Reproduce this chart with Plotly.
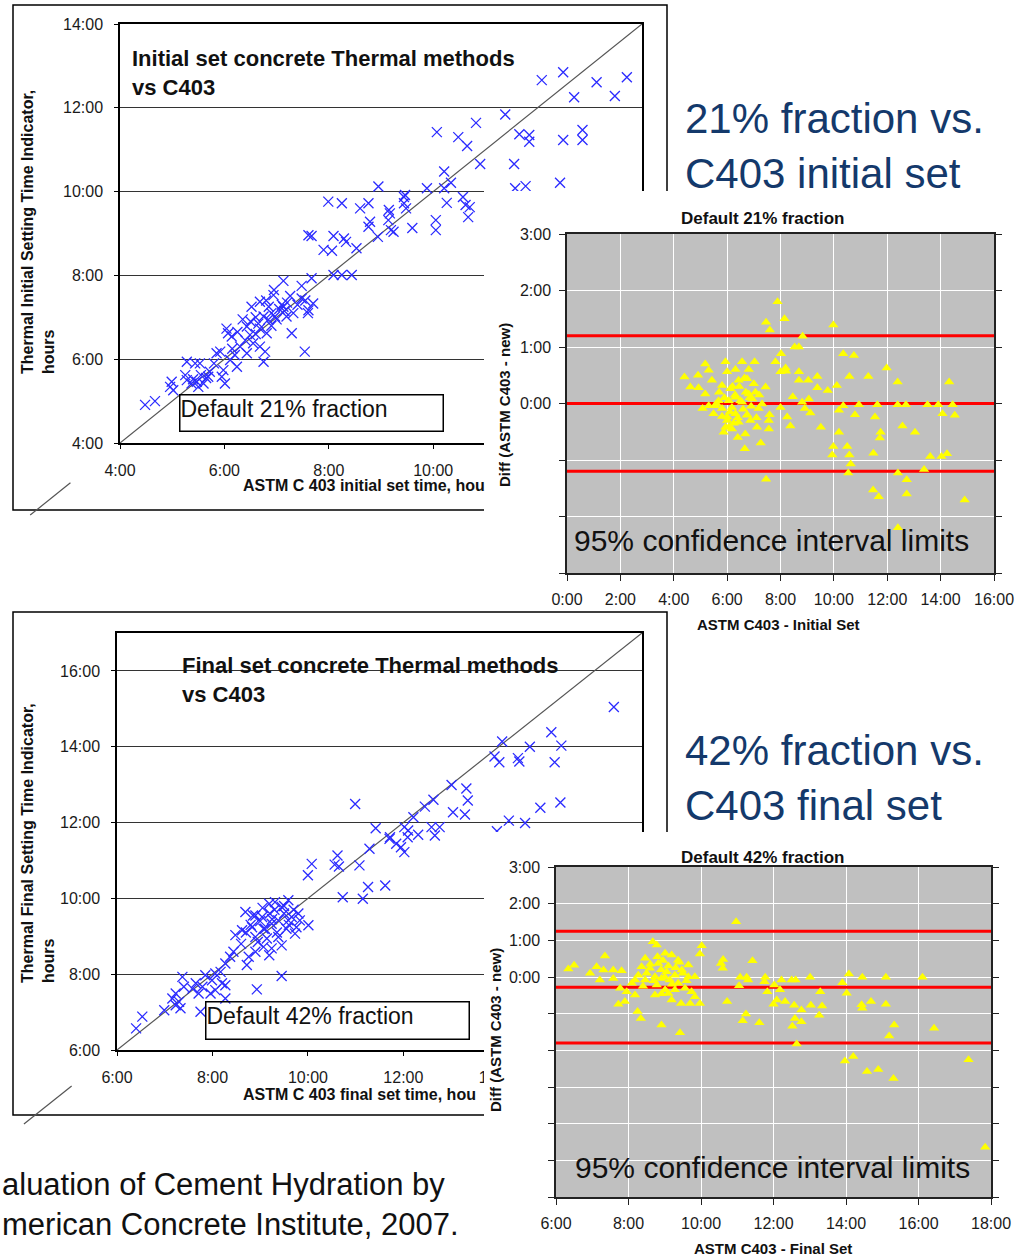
import plotly.graph_objects as go

FIG_W, FIG_H = 1022, 1257

# ---------------- data (all times in decimal hours) ----------------
# Initial set: ASTM C403 vs thermal indicator (21% fraction)
initial_c403 = [12.08, 12.49, 12.70, 13.13, 13.48, 13.71, 11.38, 10.82, 10.07, 10.48, 10.65, 11.65, 11.84, 11.84,
                12.49, 12.86, 12.86, 10.90, 11.55, 10.21, 10.34, 10.21, 9.88, 8.95, 9.46, 11.57, 11.77, 12.43, 10.26,
                10.57, 10.62, 10.67, 10.70, 10.05, 10.05, 9.60, 9.44, 9.44, 9.48, 9.15, 9.19, 8.94,
                7.99, 8.25, 8.60, 8.76, 9.17, 8.79, 8.76, 9.14, 9.24, 7.61, 7.67, 8.09, 8.29, 8.33, 8.53, 7.90, 8.06,
                8.09, 8.25, 8.44,
                7.13, 7.48, 7.67, 6.94, 7.26, 7.48, 7.70, 7.61, 7.13, 6.68, 6.52, 6.75, 6.84, 6.97, 7.19, 7.32, 7.29,
                7.54,
                6.04, 6.07, 6.14, 6.43, 6.49, 6.68, 6.81, 6.55, 6.68, 6.78, 6.75, 6.30, 6.43, 6.20, 5.92, 5.85, 6.11,
                6.24, 5.98, 5.95, 6.01, 5.72, 5.69, 5.47, 5.37, 5.50, 5.60, 5.28, 5.44, 5.53, 4.99, 4.96, 5.02, 4.48,
                4.67, 5.28, 5.25,
                7.10, 7.05, 7.15, 7.20, 6.90, 6.85, 7.00, 6.60, 6.65, 6.50, 6.35, 6.25, 6.40, 6.90, 7.40, 7.55, 7.60,
                6.95, 6.80, 6.15, 5.80, 5.65, 5.55, 5.40, 6.60]
initial_thermal = [12.66, 12.85, 12.25, 12.61, 12.28, 12.73, 11.84, 11.64, 11.42, 11.30, 11.09, 11.37, 11.35, 11.19,
                   11.23, 11.47, 11.23, 10.66, 10.66, 10.48, 10.21, 10.08, 10.08, 10.12, 9.92, 10.08, 10.13, 10.21,
                   9.73, 9.87, 9.68, 9.39, 9.63, 9.32, 9.08, 9.13, 9.87, 9.72, 9.60, 9.56, 9.08, 8.92,
                   9.76, 9.72, 9.60, 9.72, 9.48, 9.28, 9.16, 9.32, 9.04, 8.96, 8.94, 8.94, 8.88, 8.80, 8.65, 8.61,
                   8.59, 8.01, 8.01, 8.01,
                   7.87, 7.75, 7.93, 7.53, 7.51, 7.45, 7.33, 7.17, 7.25, 7.37, 7.25, 7.02, 6.94, 7.02, 7.02, 7.10,
                   6.62, 6.18,
                   6.73, 6.62, 6.54, 6.78, 6.58, 6.73, 6.62, 6.38, 6.30, 6.18, 5.94, 6.30, 6.14, 6.10, 6.18, 6.14,
                   5.98, 5.82, 5.74, 5.58, 5.42, 5.70, 5.58, 5.46, 5.42, 5.34, 5.42, 5.94, 5.90, 5.90, 5.46, 5.34,
                   5.26, 4.91, 5.00, 5.50, 5.62,
                   7.30, 7.20, 7.15, 7.35, 7.10, 7.25, 6.95, 7.00, 6.85, 6.90, 6.95, 6.65, 6.45, 6.80, 7.30, 7.40,
                   7.10, 7.65, 7.40, 6.25, 5.90, 5.55, 5.62, 5.52, 6.60]

# Initial set difference (ASTM C403 - new) against C403 initial set
diff_initial_c403 = [7.89, 8.15, 7.46, 7.60, 9.98, 8.83, 8.53, 8.69, 8.02, 7.81, 8.19, 8.00, 8.21, 10.35, 10.75,
                     11.98, 11.29, 10.58, 12.39, 14.32,
                     8.69, 9.38, 9.04, 8.69, 9.38, 9.77, 10.11, 8.46, 9.06, 8.81, 10.94, 11.63, 12.39, 12.70, 13.51,
                     13.91, 14.45, 10.35, 10.19, 10.79,
                     11.54, 14.07, 14.53, 9.12, 8.91, 8.00, 8.25, 8.37, 9.51, 10.19, 12.57, 13.04, 11.75, 11.72, 9.98,
                     10.50, 9.94, 10.58, 10.63, 11.48,
                     13.61, 14.03, 14.24, 10.54, 12.40, 13.38, 12.73, 12.73, 11.47, 11.68, 14.90, 7.46, 12.40, 7.26,
                     6.66, 6.68, 6.40, 5.87, 6.06, 7.56,
                     7.56, 7.12, 7.59, 6.75, 6.43, 5.81, 5.49, 5.08, 5.31, 4.40, 4.62, 4.91, 4.93, 5.18, 5.31, 5.43,
                     5.18, 5.94, 6.00, 5.81,
                     6.12, 6.56, 7.03, 6.81, 6.31, 6.43, 6.75, 7.44, 7.06, 6.81, 6.31, 6.06, 5.68, 6.56, 6.94, 7.31,
                     7.18, 6.18, 5.81, 5.56,
                     6.31, 6.00, 6.87, 6.18, 5.94,
                     6.20, 6.30, 6.50, 6.60, 6.70, 6.90, 7.00, 6.40, 6.10, 5.90, 5.70, 6.00, 6.65, 6.85, 7.20, 6.25,
                     5.60, 6.45, 6.75, 7.10]
diff_initial = [1.80, 1.50, 1.44, 1.30, 1.39, 1.19, 1.00, 1.00, 0.88, 0.74, 0.63, 0.56, 0.57, 0.88, 0.85, 0.63, 0.48,
                0.48, 0.38, 0.38,
                0.56, 0.48, 0.41, 0.41, 0.28, 0.23, 0.32, 0.12, 0.08, 0.02, -0.02, -0.02, -0.02, -0.02, -0.02, -0.02,
                -0.02, -0.04, -0.12, -0.20,
                -0.24, -0.18, -0.21, -0.17, -0.09, -0.07, -0.24, -0.40, -0.42, -0.51, -0.40, -0.51, -0.51, -0.61,
                -0.76, -0.76, -0.91, -0.91, -1.07, -0.88,
                -0.94, -0.94, -0.89, -1.23, -1.23, -1.17, -1.35, -1.60, -1.53, -1.65, -1.71, -1.34, -2.20, -0.70,
                -0.80, -0.54, -0.60, -0.51, -0.42, -0.45,
                -0.30, -0.42, -0.20, -0.21, -0.33, -0.23, -0.18, -0.09, -0.04, 0.47, 0.29, 0.50, 0.28, 0.70, 0.59,
                0.41, 0.17, 0.74, 0.56, 0.32,
                0.26, 0.74, 0.74, 0.60, 0.60, 0.41, 0.44, 0.29, 0.20, 0.17, 0.11, 0.05, 0.05, 0.02, 0.08, -0.01,
                -0.09, -0.07, -0.09, -0.04,
                -0.18, -0.24, -0.30, -0.45, -0.42,
                0.30, 0.15, 0.05, -0.10, 0.20, -0.05, 0.35, -0.25, -0.15, 0.10, 0.20, -0.30, 0.45, 0.10, 0.15,
                -0.35, 0.00, 0.30, -0.20, -0.25]
ci_initial = [1.20, 0.00, -1.20]

# Final set: ASTM C403 vs thermal indicator (42% fraction)
final_c403 = [16.41, 15.10, 14.07, 14.65, 15.31, 13.91, 14.01, 14.40, 14.43, 15.17, 13.01, 13.32, 13.35, 12.63,
              12.45, 13.04, 13.29, 10.99, 14.87, 15.29, 14.21, 14.55, 13.96, 11.42, 12.02, 12.21, 12.10, 12.59,
              12.76, 12.66, 12.31, 11.72,
              11.71, 11.85, 11.95, 12.02, 12.09, 11.29, 10.08, 10.00, 10.62, 10.56, 10.65, 11.08, 11.26, 11.62,
              11.15, 10.73,
              9.59, 9.31, 9.45, 9.19, 8.69, 8.90, 9.04, 9.66, 9.83, 10.01, 9.76, 9.59, 9.38, 9.24, 9.07, 8.83, 8.62,
              8.48, 8.90, 9.14, 9.38, 9.73, 9.24, 9.07, 9.45, 9.19, 8.90, 8.76, 8.72, 8.44, 8.37, 8.27, 8.17, 8.06,
              9.45, 8.93, 8.27, 8.20, 7.99, 7.85, 7.65, 7.58, 7.79, 7.71, 7.96, 8.06, 8.27, 7.75, 7.37, 7.40, 7.23,
              7.16, 7.30, 7.33, 7.23, 6.99, 6.53, 6.40,
              9.20, 9.30, 9.00, 9.50, 9.60, 8.80, 9.10, 9.35, 8.95, 9.25, 9.50, 9.70, 8.70, 8.60, 9.55, 9.80, 9.05,
              8.85]
final_thermal = [15.05, 14.38, 14.14, 14.00, 14.03, 13.74, 13.59, 13.70, 13.61, 13.59, 12.99, 12.90, 12.58, 12.60,
                 12.42, 12.27, 12.21, 12.49, 12.39, 12.53, 12.05, 11.99, 11.77, 11.85, 11.88, 12.14, 11.79, 11.88,
                 11.88, 11.66, 11.68, 11.61,
                 11.57, 11.44, 11.35, 11.22, 11.61, 11.31, 10.91, 10.61, 11.13, 10.89, 10.84, 10.87, 10.30, 10.34,
                 9.99, 10.03,
                 9.95, 9.90, 9.77, 9.86, 9.64, 9.55, 9.51, 9.51, 9.42, 9.29, 9.24, 9.42, 9.42, 9.33, 9.20, 9.24,
                 9.16, 9.03, 8.98, 8.94, 8.98, 9.07, 8.68, 8.72, 8.76, 8.50, 8.59, 8.46, 8.24, 8.59, 8.46, 8.28,
                 8.06, 8.02, 7.95, 7.60, 7.71, 7.76, 7.84, 7.97, 7.76, 7.62, 7.67, 7.49, 7.49, 7.58, 7.36, 7.01,
                 7.93, 7.67, 7.49, 7.36, 7.27, 7.10, 7.18, 7.05, 6.88, 6.57,
                 9.60, 9.70, 9.40, 9.60, 9.30, 9.30, 9.20, 9.10, 8.85, 9.45, 9.80, 9.70, 9.10, 8.80, 9.20, 9.60,
                 9.75, 9.55]

# Final set difference (ASTM C403 - new) against C403 final set
diff_final_c403 = [10.97, 8.67, 8.78, 10.02, 9.97, 7.35, 6.34, 6.50, 6.94, 7.12, 7.31, 7.58, 7.81, 7.21, 7.58, 7.77,
                   8.18, 7.95, 8.18, 7.72, 7.90, 8.25, 8.34, 8.91, 9.42,
                   8.46, 9.01, 9.19, 9.37, 9.65, 8.36, 8.59, 8.82, 9.05, 9.28, 9.47, 9.65, 9.83, 8.91, 8.73, 8.46,
                   8.27, 8.78, 9.01, 9.28, 9.56, 9.74, 8.73, 8.91, 9.19, 9.45, 9.70, 9.83, 9.97, 9.14, 9.37, 8.09,
                   10.55, 10.61, 10.60, 11.42, 11.08, 11.26, 11.30, 11.05, 10.72, 11.24, 11.15, 11.61, 11.77, 11.75,
                   12.02, 12.22, 11.83, 12.18, 12.09, 12.00, 12.32, 12.50, 12.61, 12.57, 12.77, 12.59, 12.77, 12.52,
                   12.64,
                   13.01, 13.29, 13.34, 13.03, 13.26, 13.90, 14.08, 14.02, 14.45, 14.43, 14.45, 14.69, 15.10, 15.10,
                   15.33, 15.19, 16.11, 16.43, 13.97, 14.20, 14.58, 14.89, 15.31, 17.38, 17.84,
                   8.60, 8.90, 9.10, 8.70, 9.20, 8.50, 9.30, 8.80, 9.00, 9.50, 9.60, 8.40, 9.10, 9.40, 8.95]
diff_final = [1.51, 0.96, 0.87, 0.85, 0.63, 0.57, 0.22, 0.32, 0.10, 0.28, 0.19, 0.19, 0.17, -0.08, -0.04, -0.31,
              -0.08, -0.40, -0.49, -0.74, -0.67, -0.94, -1.13, -1.31, -1.52,
              0.51, 0.65, 0.60, 0.46, 0.33, 0.28, 0.24, 0.37, 0.14, 0.05, 0.19, 0.01, 0.01, -0.04, 0.01, -0.08,
              0.05, -0.22, -0.35, -0.35, -0.31, -0.40, -0.49, -0.46, -0.63, -0.72, -0.72, -0.54, -0.72, -0.08,
              -0.17, -0.17,
              0.37, 0.48, 0.24, 0.44, -0.01, -0.01, -0.08, -0.24, -0.67, -1.01, -1.19, -1.25, -0.01, -0.13, -0.22,
              -0.08, -0.40, -0.35, -0.63, -0.74, -0.67, -0.08, -0.08, -0.77, -0.90, -1.13, -1.22, -1.34, -1.83,
              -0.01, -0.40, -0.79, -0.77, -1.04, -0.16, 0.08, -0.44, -0.01, -0.76, -0.85, -0.67, -0.01, -0.74,
              -1.31, -1.61, -0.01, -1.40, -2.29, -2.17, -2.58, -2.52, -2.77, -2.26, -4.64,
              0.35, 0.20, 0.30, -0.10, -0.20, 0.10, 0.25, 0.55, 0.00, 0.10, -0.10, -0.25, -0.45, 0.40, 0.45]
ci_final = [1.25, -0.28, -1.80]

# axes ranges and tick labels
initial_range = [4, 14]
initial_ticks = [4, 6, 8, 10, 12, 14]
initial_ticktext = ["4:00", "6:00", "8:00", "10:00", "12:00", "14:00"]
final_range = [6, 17]
final_ticks = [6, 8, 10, 12, 14, 16]
final_ticktext = ["6:00", "8:00", "10:00", "12:00", "14:00", "16:00"]
diff_initial_xrange = [0, 16]
diff_initial_xticks = [0, 2, 4, 6, 8, 10, 12, 14, 16]
diff_initial_xticktext = ["0:00", "2:00", "4:00", "6:00", "8:00", "10:00", "12:00", "14:00", "16:00"]
diff_initial_yrange = [-3, 3]
diff_initial_yticks = [-3, -2, -1, 0, 1, 2, 3]
diff_initial_yticktext = ["", "", "", "0:00", "1:00", "2:00", "3:00"]
diff_final_xrange = [6, 18]
diff_final_xticks = [6, 8, 10, 12, 14, 16, 18]
diff_final_xticktext = ["6:00", "8:00", "10:00", "12:00", "14:00", "16:00", "18:00"]
diff_final_yrange = [-6, 3]
diff_final_yticks = [-6, -5, -4, -3, -2, -1, 0, 1, 2, 3]
diff_final_yticktext = ["", "", "", "", "", "", "0:00", "1:00", "2:00", "3:00"]

# equality line stub that pokes out below each scatter panel
initial_stub = [2.28, 3.05]
final_stub = [4.05, 5.05]

FONT = "Arial, Liberation Sans, sans-serif"
BLUE = "#2b2bff"
NAVY = "#14396b"


def hdom(left, right):
    return [left / FIG_W, right / FIG_W]


def vdom(top, bottom):
    return [1 - bottom / FIG_H, 1 - top / FIG_H]


def px(x):
    return x / FIG_W


def py(y):
    return 1 - y / FIG_H


def to_paper(v, rng, dom):
    return dom[0] + (v - rng[0]) / (rng[1] - rng[0]) * (dom[1] - dom[0])


dom_a = (hdom(120, 642), vdom(24, 443))
dom_mask_b = (hdom(484, FIG_W), vdom(191, 608))
dom_b = (hdom(567, 994), vdom(234, 573))
dom_c = (hdom(117, 642), vdom(633, 1050))
dom_mask_d = (hdom(484, FIG_W), vdom(832, FIG_H))
dom_d = (hdom(556, 991), vdom(867, 1197))

fig = go.Figure()

# panel A: initial set scatter
fig.add_trace(go.Scatter(x=initial_range, y=initial_range, mode="lines",
                         line=dict(color="#555555", width=1.2), xaxis="x", yaxis="y"))
fig.add_trace(go.Scatter(x=initial_c403, y=initial_thermal, mode="markers",
                         marker=dict(symbol="x-thin", size=10, color=BLUE, line=dict(width=1.3, color=BLUE)),
                         xaxis="x", yaxis="y"))

# panel B: initial set differences
for v in ci_initial:
    fig.add_trace(go.Scatter(x=diff_initial_xrange, y=[v, v], mode="lines",
                             line=dict(color="#ff0000", width=3), xaxis="x3", yaxis="y3"))
fig.add_trace(go.Scatter(x=diff_initial_c403, y=diff_initial, mode="markers",
                         marker=dict(symbol="triangle-up", size=9, color="#ffff00", line=dict(width=0)),
                         xaxis="x3", yaxis="y3"))

# panel C: final set scatter
fig.add_trace(go.Scatter(x=final_range, y=final_range, mode="lines",
                         line=dict(color="#555555", width=1.2), xaxis="x4", yaxis="y4"))
fig.add_trace(go.Scatter(x=final_c403, y=final_thermal, mode="markers",
                         marker=dict(symbol="x-thin", size=10, color=BLUE, line=dict(width=1.3, color=BLUE)),
                         xaxis="x4", yaxis="y4"))

# panel D: final set differences
for v in ci_final:
    fig.add_trace(go.Scatter(x=diff_final_xrange, y=[v, v], mode="lines",
                             line=dict(color="#ff0000", width=3), xaxis="x6", yaxis="y6"))
fig.add_trace(go.Scatter(x=diff_final_c403, y=diff_final, mode="markers",
                         marker=dict(symbol="triangle-up", size=9, color="#ffff00", line=dict(width=0)),
                         xaxis="x6", yaxis="y6"))

tickfont = dict(family=FONT, size=16, color="#1a1a1a")


def scatter_axis(dom, rng, ticks, text, anchor, grid):
    return dict(domain=dom, range=rng, tickvals=ticks, ticktext=text, anchor=anchor,
                showgrid=grid, gridcolor="#333333", gridwidth=1.3, zeroline=False,
                showline=True, linecolor="black", linewidth=1.5, mirror=True,
                ticks="outside", ticklen=4, tickcolor="black", tickfont=tickfont,
                ticklabelstandoff=8, automargin=False, fixedrange=True)


def diff_axis(dom, rng, ticks, text, anchor, mirror):
    return dict(domain=dom, range=rng, tickvals=ticks, ticktext=text, anchor=anchor,
                showgrid=True, gridcolor="white", gridwidth=1.3, zeroline=False,
                showline=True, linecolor="#222222", linewidth=1.5, mirror=mirror,
                ticks="outside", ticklen=6, tickcolor="#222222", tickfont=tickfont,
                ticklabelstandoff=5, automargin=False, fixedrange=True)


def mask_axis(dom, anchor):
    return dict(domain=dom, range=[0, 1], anchor=anchor, visible=False, fixedrange=True)


layout_axes = dict(
    xaxis=scatter_axis(dom_a[0], initial_range, initial_ticks, initial_ticktext, "y", False),
    yaxis=scatter_axis(dom_a[1], initial_range, initial_ticks, initial_ticktext, "x", True),
    xaxis2=mask_axis(dom_mask_b[0], "y2"),
    yaxis2=mask_axis(dom_mask_b[1], "x2"),
    xaxis3=diff_axis(dom_b[0], diff_initial_xrange, diff_initial_xticks, diff_initial_xticktext, "y3", True),
    yaxis3=diff_axis(dom_b[1], diff_initial_yrange, diff_initial_yticks, diff_initial_yticktext, "x3", "ticks"),
    xaxis4=scatter_axis(dom_c[0], final_range, final_ticks, final_ticktext, "y4", False),
    yaxis4=scatter_axis(dom_c[1], final_range, final_ticks, final_ticktext, "x4", True),
    xaxis5=mask_axis(dom_mask_d[0], "y5"),
    yaxis5=mask_axis(dom_mask_d[1], "x5"),
    xaxis6=diff_axis(dom_d[0], diff_final_xrange, diff_final_xticks, diff_final_xticktext, "y6", True),
    yaxis6=diff_axis(dom_d[1], diff_final_yrange, diff_final_yticks, diff_final_yticktext, "x6", "ticks"),
)

shapes = [
    # outer frames of the two Excel charts
    dict(type="rect", xref="paper", yref="paper", x0=px(13), x1=px(667), y0=py(510), y1=py(5),
         line=dict(color="black", width=1.5), layer="below"),
    dict(type="rect", xref="paper", yref="paper", x0=px(13), x1=px(667), y0=py(1115), y1=py(612),
         line=dict(color="black", width=1.5), layer="below"),
    # white chart areas of the difference charts, covering what lies beneath
    dict(type="rect", xref="x2", yref="y2", x0=0, x1=1, y0=0, y1=1,
         fillcolor="white", line=dict(width=0), layer="below"),
    dict(type="rect", xref="x5", yref="y5", x0=0, x1=1, y0=0, y1=1,
         fillcolor="white", line=dict(width=0), layer="below"),
    # grey plot areas
    dict(type="rect", xref="x3", yref="y3", x0=diff_initial_xrange[0], x1=diff_initial_xrange[1],
         y0=diff_initial_yrange[0], y1=diff_initial_yrange[1],
         fillcolor="#c0c0c0", line=dict(width=0), layer="below"),
    dict(type="rect", xref="x6", yref="y6", x0=diff_final_xrange[0], x1=diff_final_xrange[1],
         y0=diff_final_yrange[0], y1=diff_final_yrange[1],
         fillcolor="#c0c0c0", line=dict(width=0), layer="below"),
]
for stub, rng, dom in [(initial_stub, initial_range, dom_a), (final_stub, final_range, dom_c)]:
    shapes.append(dict(type="line", xref="paper", yref="paper",
                       x0=to_paper(stub[0], rng, dom[0]), x1=to_paper(stub[1], rng, dom[0]),
                       y0=to_paper(stub[0], rng, dom[1]), y1=to_paper(stub[1], rng, dom[1]),
                       line=dict(color="#555555", width=1.2), layer="below"))


def note(text, x, y, size, xanchor="center", yanchor="middle", bold=False, color="#111111",
         family=FONT, angle=0, **kw):
    return dict(text=text, x=px(x), y=py(y), xref="paper", yref="paper", showarrow=False,
                xanchor=xanchor, yanchor=yanchor, textangle=angle, align="left",
                font=dict(family=family, size=size, color=color, weight="bold" if bold else "normal"), **kw)


annotations = [
    # panel A
    note("Initial set concrete Thermal methods<br>vs C403", 130, 73, 22, xanchor="left", bold=True),
    note("Default 21% fraction", 179, 394, 23, xanchor="left", yanchor="top", width=262, height=35,
         valign="top", bordercolor="black", borderwidth=1.5, borderpad=0),
    note("Thermal Initial Setting Time Indicator,<br>hours", 38, 232, 16, bold=True, angle=-90),
    note("ASTM C 403 initial set time, hou", 241, 485, 16, xanchor="left", bold=True),
    # panel B
    note("Default 21% fraction", 762, 219, 17, bold=True),
    note("Diff (ASTM C403 - new)", 505, 405, 15, bold=True, angle=-90),
    note("ASTM C403 - Initial Set", 778, 624, 15, bold=True),
    note("95% confidence interval limits", 572, 540, 30, xanchor="left"),
    # panel C
    note("Final set concrete Thermal methods<br>vs C403", 180, 680, 22, xanchor="left", bold=True),
    note("Default 42% fraction", 205, 1001, 23, xanchor="left", yanchor="top", width=262, height=36,
         valign="top", bordercolor="black", borderwidth=1.5, borderpad=0),
    note("Thermal Final Setting Time Indicator,<br>hours", 38, 843, 16, bold=True, angle=-90),
    note("ASTM C 403 final set time, hou", 241, 1094, 16, xanchor="left", bold=True),
    # panel D
    note("Default 42% fraction", 762, 857, 17, bold=True),
    note("Diff (ASTM C403 - new)", 495, 1030, 15, bold=True, angle=-90),
    note("ASTM C403 - Final Set", 773, 1248, 15, bold=True),
    note("95% confidence interval limits", 573, 1167, 30, xanchor="left"),
    # slide text
    note("21% fraction vs.<br>C403 initial set", 683, 146, 42, xanchor="left", color=NAVY),
    note("42% fraction vs.<br>C403 final set", 683, 778, 42, xanchor="left", color=NAVY),
    note("aluation of Cement Hydration by<br>merican Concrete Institute, 2007.", 0, 1204, 31,
         xanchor="left", color="#111111"),
]

fig.update_layout(
    width=FIG_W, height=FIG_H,
    margin=dict(l=0, r=0, t=0, b=0),
    paper_bgcolor="white",
    plot_bgcolor="rgba(0,0,0,0)",
    showlegend=False,
    shapes=shapes,
    annotations=annotations,
    **layout_axes,
)

# the page body has a default 8px margin; drop it so the figure sits at the window corner
fig.write_html("out.html", config={"displayModeBar": False},
               post_script="document.body.style.margin = '0';")
